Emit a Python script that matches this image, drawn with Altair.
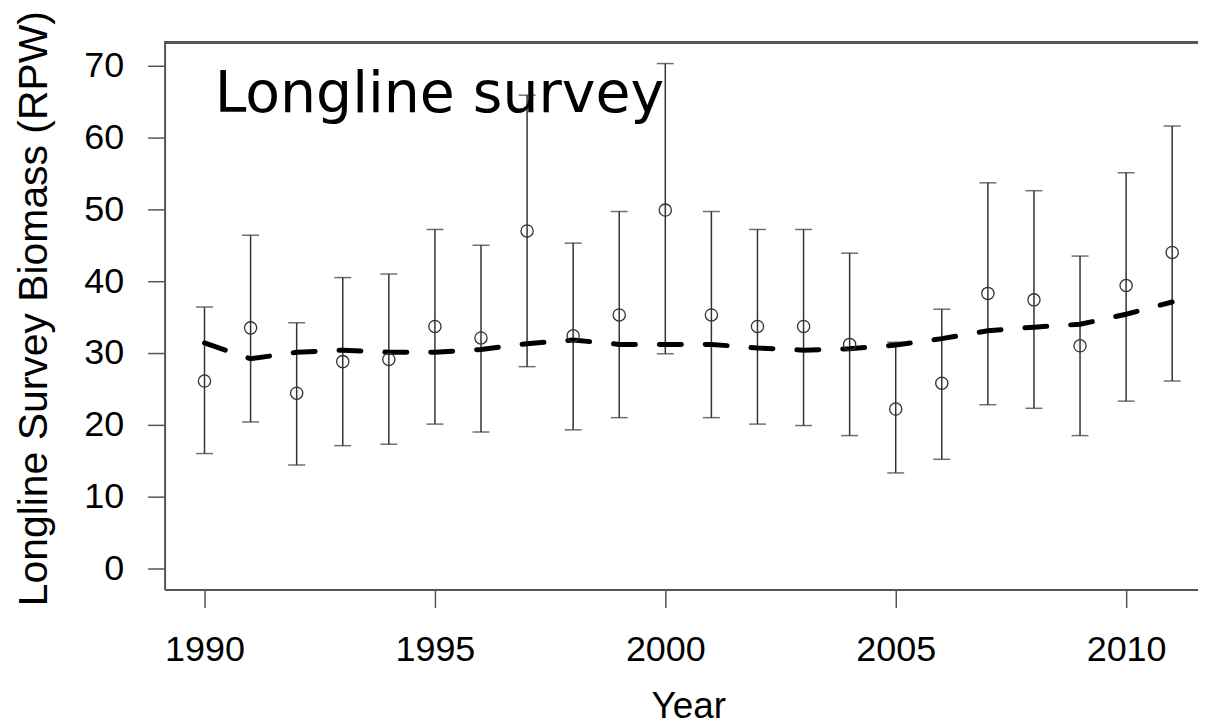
import altair as alt
import pandas as pd

# ---- data ----
years = list(range(1990, 2012))
biomass = [26.1, 33.5, 24.4, 28.8, 29.1, 33.7, 32.1, 47.0, 32.4, 35.3, 49.9,
           35.3, 33.7, 33.7, 31.2, 22.2, 25.8, 38.3, 37.4, 31.0, 39.4, 44.0]
upper = [36.4, 46.4, 34.2, 40.5, 41.0, 47.2, 45.0, 65.9, 45.3, 49.7, 70.3,
         49.7, 47.2, 47.2, 43.9, 31.5, 36.1, 53.7, 52.6, 43.5, 55.1, 61.6]
lower = [16.0, 20.4, 14.4, 17.1, 17.3, 20.1, 19.0, 28.1, 19.3, 21.0, 29.9,
         21.0, 20.1, 19.9, 18.5, 13.3, 15.2, 22.8, 22.3, 18.5, 23.3, 26.1]
fitted = [31.4, 29.2, 30.1, 30.4, 30.1, 30.1, 30.5, 31.3, 31.8, 31.2, 31.2,
          31.2, 30.7, 30.4, 30.6, 31.1, 32.0, 33.1, 33.6, 34.0, 35.4, 37.1]
x_ticks = [1990, 1995, 2000, 2005, 2010]
y_ticks = [0, 10, 20, 30, 40, 50, 60, 70]
ann_x = [1990.22]
ann_y = [63.5]
ann_text = ["Longline survey"]

W, H = 1036, 548
AX = "#555555"
FONT = "Liberation Sans"

df = pd.DataFrame({"year": years, "biomass": biomass, "upper": upper,
                   "lower": lower, "fit": fitted})
ann = pd.DataFrame({"x": ann_x, "y": ann_y, "t": ann_text})

xs = alt.Scale(domain=[1989.134, 2011.56], nice=False, zero=False)
ys = alt.Scale(domain=[-2.92, 73.19], nice=False, zero=False)

x_axis = alt.Axis(values=x_ticks, format="d", title="Year", grid=False,
                  labelFontSize=36, titleFontSize=37, labelFont=FONT, titleFont=FONT,
                  titleFontWeight="normal", labelColor="black", titleColor="black",
                  tickSize=18, tickWidth=1.5, tickColor=AX, domainColor=AX,
                  domainWidth=2, labelPadding=25, titlePadding=21, titleX=525)
y_axis = alt.Axis(values=y_ticks, format="d", title="Longline Survey Biomass (RPW)",
                  grid=False, labelFontSize=36, titleFontSize=41, labelFont=FONT,
                  titleFont=FONT, titleFontWeight="normal", labelColor="black",
                  titleColor="black", tickSize=17, tickWidth=1.5, tickColor=AX,
                  domainColor=AX, domainWidth=2, labelPadding=24, titlePadding=28,
                  titleY=266)

base = alt.Chart(df)

bars = base.mark_rule(color="#333333", strokeWidth=1.5).encode(
    x=alt.X("year:Q", scale=xs, axis=x_axis),
    y=alt.Y("lower:Q", scale=ys, axis=y_axis),
    y2="upper:Q",
)
cap_hi = base.mark_tick(orient="horizontal", size=17, thickness=1.5,
                        color="#333333").encode(
    x=alt.X("year:Q", scale=xs), y=alt.Y("upper:Q", scale=ys))
cap_lo = base.mark_tick(orient="horizontal", size=17, thickness=1.5,
                        color="#333333").encode(
    x=alt.X("year:Q", scale=xs), y=alt.Y("lower:Q", scale=ys))
pts = base.mark_point(shape="circle", filled=False, size=150, color="#333333",
                      strokeWidth=1.3, opacity=1).encode(
    x=alt.X("year:Q", scale=xs), y=alt.Y("biomass:Q", scale=ys))
line = base.mark_line(color="black", strokeWidth=5, strokeDash=[22, 24],
                      strokeCap="round").encode(
    x=alt.X("year:Q", scale=xs), y=alt.Y("fit:Q", scale=ys))
top_border = base.mark_rule(color=AX, strokeWidth=2).encode(
    x=alt.value(0), x2=alt.value(W), y=alt.value(0))
label = alt.Chart(ann).mark_text(font="DejaVu Sans", fontSize=57, align="left",
                                 baseline="alphabetic", color="black").encode(
    x=alt.X("x:Q", scale=xs), y=alt.Y("y:Q", scale=ys), text="t:N")

chart = alt.layer(bars, cap_hi, cap_lo, line, pts, top_border, label).properties(
    width=W, height=H,
    autosize=alt.AutoSizeParams(type="none"),
    padding={"left": 157, "top": 34, "right": 0, "bottom": 136},
).configure_view(stroke=None).configure(background="white")

chart.save("out.html", embed_options={"renderer": "svg", "actions": False})
